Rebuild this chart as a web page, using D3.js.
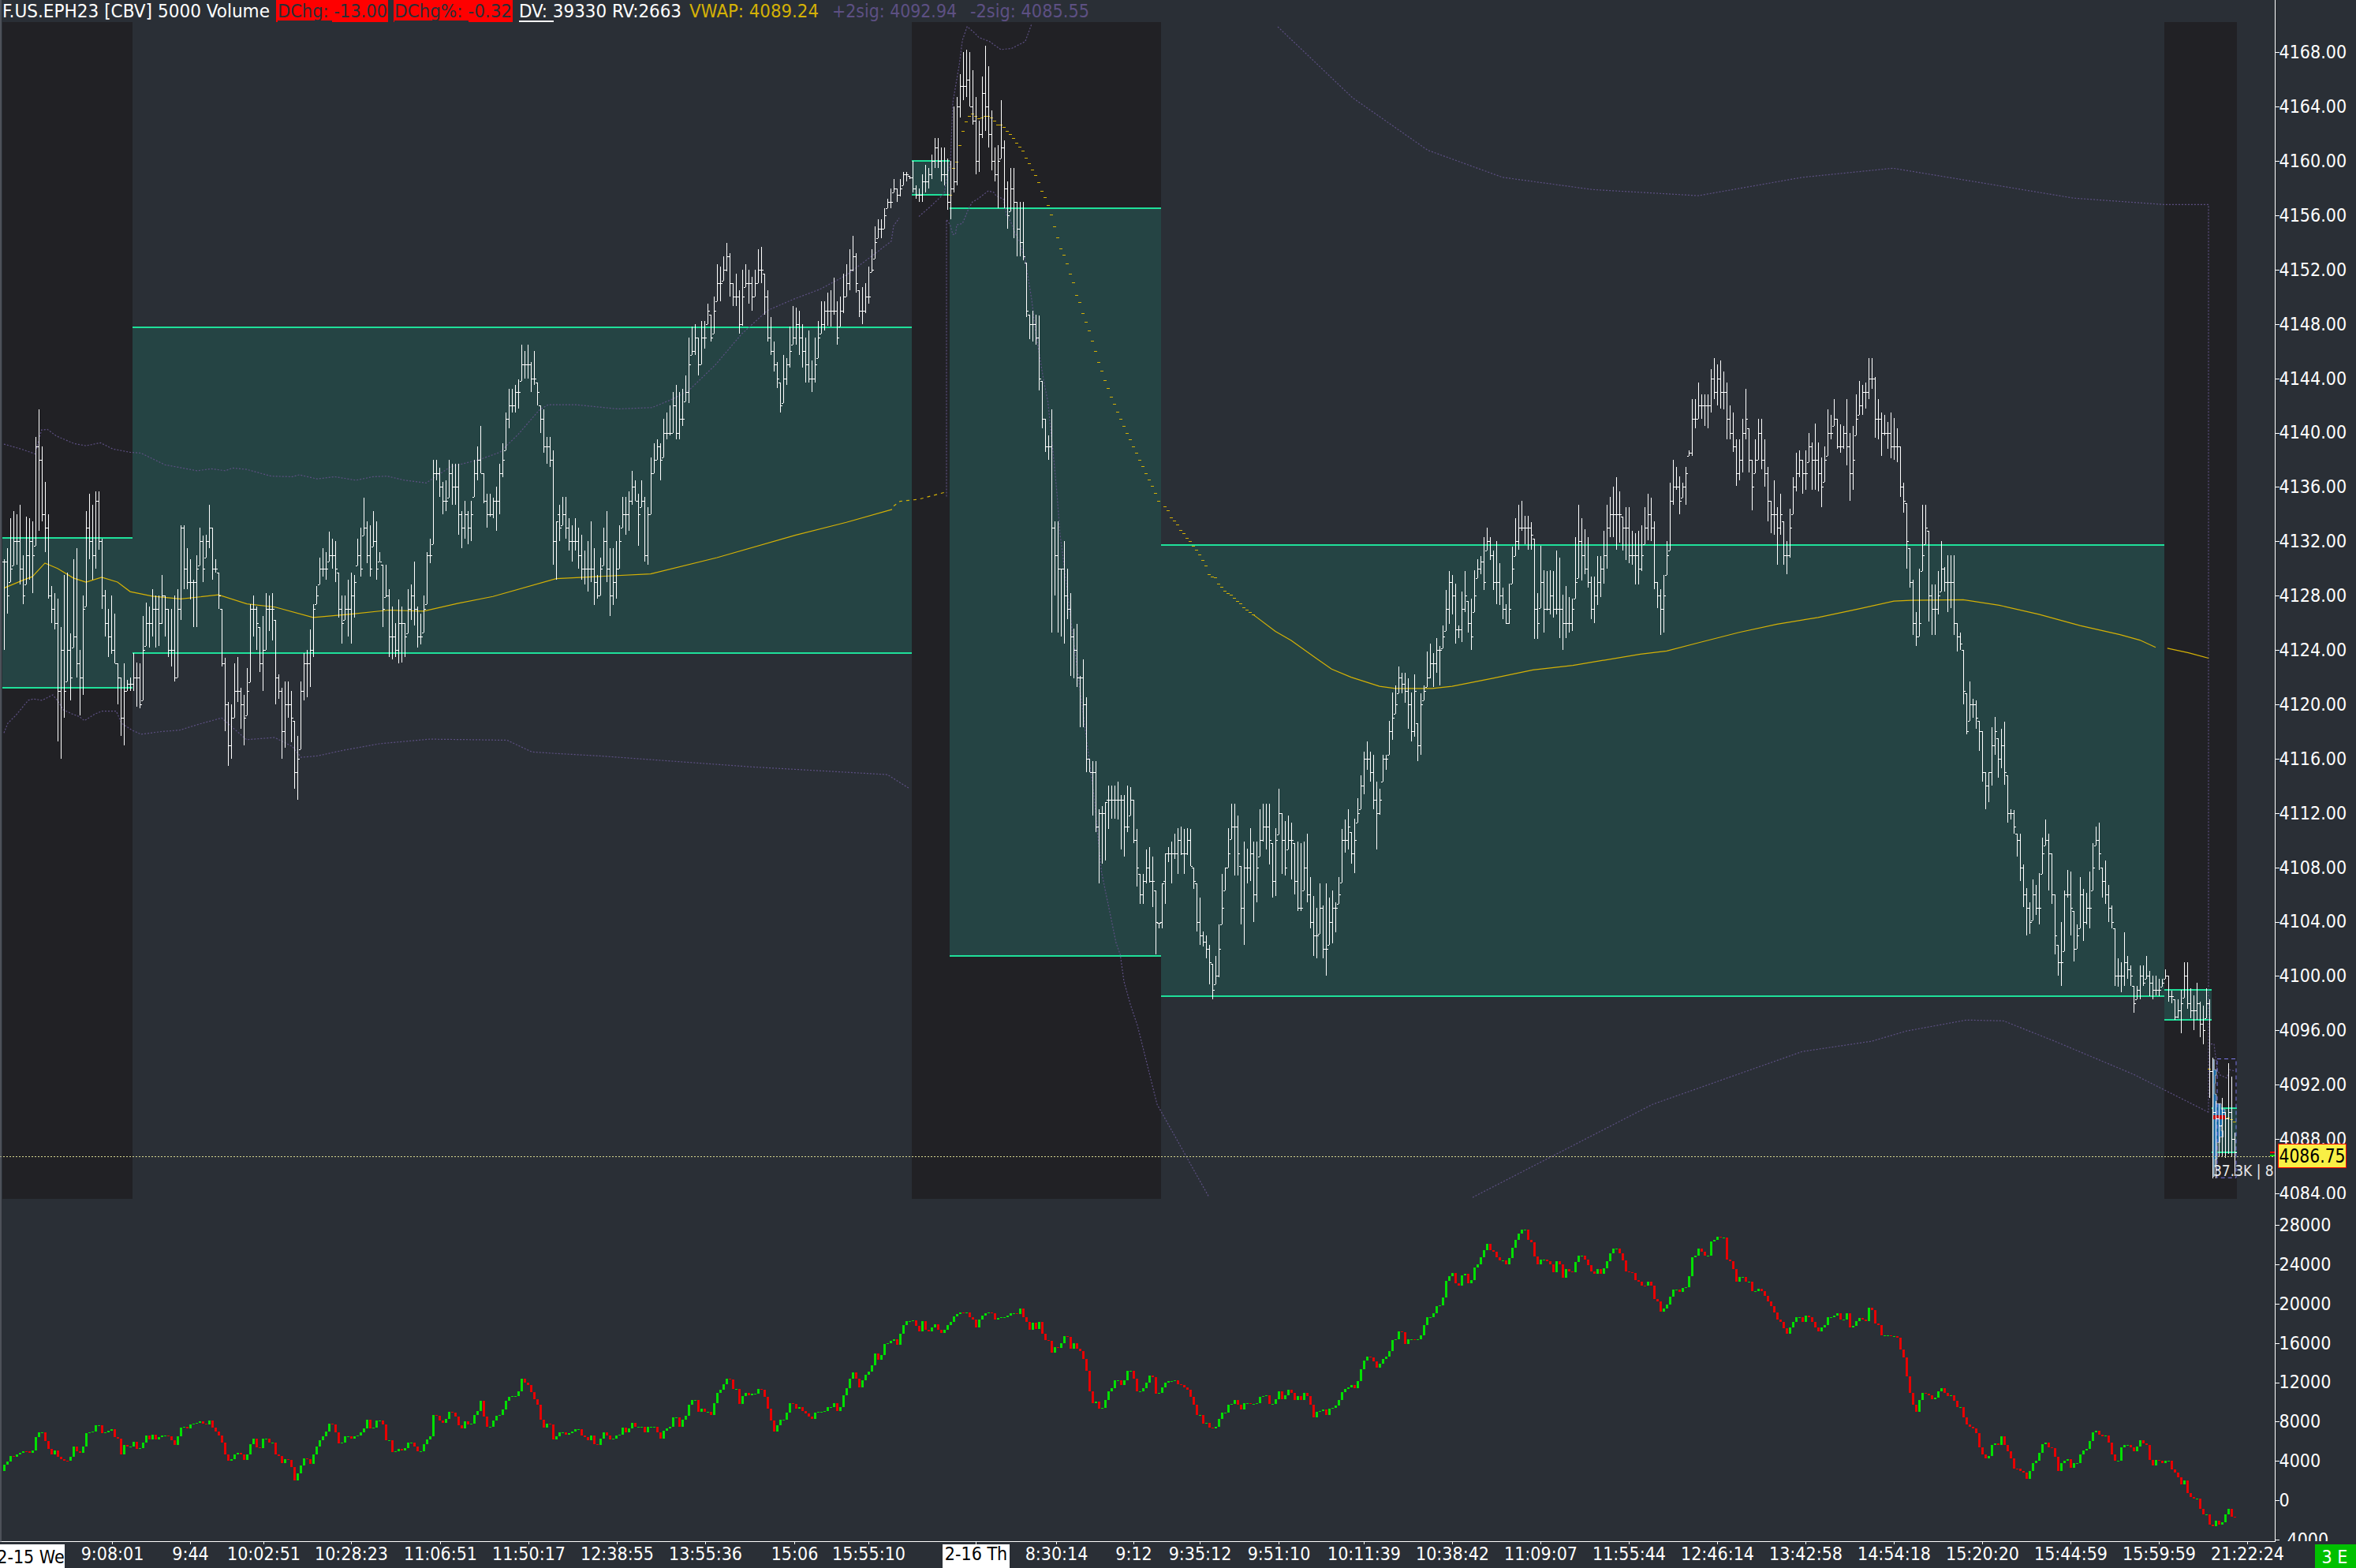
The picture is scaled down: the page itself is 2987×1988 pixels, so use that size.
<!DOCTYPE html>
<html><head><meta charset="utf-8">
<script src="https://cdn.jsdelivr.net/npm/d3@7/dist/d3.min.js"></script>
<style>
html,body{margin:0;padding:0;background:#2a2f36;overflow:hidden}
text{font-family:'DejaVu Sans Condensed','DejaVu Sans',sans-serif;font-stretch:condensed;font-size:23px}
</style></head><body><svg id="c" width="2987" height="1988"></svg>
<script>
// price bars, values are points above 4000
const priceBase=4000;
const highs=[130.7,131.5,133.7,134.2,134,134.7,131,133.8,133.7,133.5,
139.7,141.7,139,136.4,134,128.7,128.2,127.8,125.7,129.5,
129.7,125.2,130.7,131.5,124,128,134.2,135.5,134.7,135.7,
135.7,132.2,128.4,127,128,126.7,123,122,123,121.8,
122,123.8,123.1,123,126.5,127.5,127.2,128.5,128,128,
129.5,128,127,127,128,128.5,133.2,133.2,131.5,130.7,
129.2,131,133,132.4,132.5,134.7,133,130.7,129.7,127,
123.4,120.2,120,123,123.5,121.2,120.7,122.7,127.4,128,
127.2,125.7,126.5,128.2,128,128.2,126.2,122.2,121.2,121.7,
121.7,121,118.8,117.7,121.7,123.8,124,125.5,127.4,128.7,
130.8,131.5,131.2,132.7,132.2,132,129.7,128,128,129.2,
129.7,129.5,132.2,133,135.2,133.5,133.2,134.2,133.5,131.2,
130.3,130.3,128.5,127.2,126,127.7,127.2,126,128.5,128.8,
130.5,127.2,126.7,128,131.2,132.2,138,138,137.4,136.4,
136.5,138,137.7,137.7,137.7,134.2,135,134.2,135,138,
139,140.5,137,135.5,135.5,135.2,136,137.7,139.2,141.5,
143.2,143.2,143.5,143.9,146.5,146,146.5,145.2,146,143.7,
142,141.7,139.7,139.7,138.7,133.5,134.7,135.3,135.3,133.7,
133.2,133.7,133,132.5,131.3,132,133.5,131.5,129.5,130.8,
133,134.2,131.5,131.5,132,133.2,135.3,135.3,135.7,137.2,
136.5,135.5,136.5,135.3,134.5,138.2,139.2,139.5,139.2,141,
141.5,142,143,143.5,143,143.2,144.2,147,147.8,148,
147,148.2,148.2,149.5,148.7,150,152.4,152.2,153,154,
153.2,151,151.7,150.5,152,152.4,152,151.5,152,153.5,
153.7,151.7,150.5,148.5,146.7,145.2,143.7,145.7,145.5,147.8,
149.3,149.2,149,148,147,147.5,145.3,147,148.2,149.7,
149.7,150.3,150.5,151.4,149.7,150,151.7,152.4,153.5,154.5,
153.2,150.5,150.7,151,152.2,153.5,155.2,155.7,155.7,156.5,
157.2,158,158.7,158,158.7,159.2,159.2,158.9,160,158.2,
158,159,159.7,159.5,160.5,161.7,161.7,161,161,160.2,
160,164,164.7,166.4,168,168.2,168,166.7,164.7,163,
166.2,168.5,167,163.7,161,161.2,164.5,161.5,158.5,159.5,
159.5,157,157,157,152.5,148.7,149,148.7,148.6,143.8,
141,139.8,141.7,133.5,133.5,130,132,130,128.2,125.6,
125.9,122.1,123.3,120.5,116,115.8,115.8,112.3,112.5,112.8,
114,114,114,114.3,113.3,113.3,114,113.9,113,110.8,
107.5,107.5,109.3,109.5,108.8,106.3,103.9,106.8,109,109.5,
109.9,110.5,110.9,111,110.8,110.9,110.8,108,106.8,105.8,
103.3,103,102.3,100.9,101.5,103.8,107.5,108,110.9,112.7,
112.7,111.8,108.1,109.9,109.4,110.9,109.9,109.9,112.3,112.7,
112.7,112.7,109.8,110.9,113.8,112,111.4,111.8,111.3,109.8,
109.9,109.8,109.9,110.5,107.3,105.9,105,106.8,105.2,106.8,
105.8,106.3,105.4,107.3,110.8,111.5,112.3,110.6,111.6,113.1,
114.8,116.5,117.3,116.5,116.3,114.3,113.8,116.3,116.3,118.8,
120.9,121.4,122.8,122.3,122.3,121.9,120.9,122.2,118.6,120.8,
121.4,123.9,124.5,123.8,124.9,124.3,125.8,128.4,129.8,129.5,
128.9,125.8,128.3,129.8,127.6,127.8,129.9,130.7,130.9,132.3,
133,132.3,131.3,132,130.4,128.6,127.4,128.9,131.6,133.7,
134.7,135,133.9,133.9,133.4,132.2,128.2,131.7,129.9,129.8,
129.9,129.8,131.3,130.8,128.1,128.7,127.9,127.8,132.3,134.7,
133.7,132.9,132.3,129.4,129.4,130.9,130.9,132.8,134.7,135.3,
136,136.7,135.7,133.8,134.5,134.5,132.8,132.6,132.8,133.2,
134.5,135.5,135.2,133.5,129,128.5,129.5,132,136.3,138,
137.5,136.8,136.3,137.5,138.7,142.5,142.5,143.7,142.8,142.8,
142.8,144.7,145.5,145,145.3,144.5,143.7,142,141.5,139.5,
139.5,141,143.2,140.3,138,139.5,141,141,139.5,137.5,
135,136.5,134.5,135.5,133.5,132,134.4,136.7,138.5,138.7,
138,138.7,140,139.3,140.7,139.3,138.2,139,141.7,141.3,
142.5,141,140.6,140.5,142.5,140,140.5,142.8,143.8,143.5,
143.7,145.5,145.5,144.1,142.5,141.5,141.3,140.8,141.5,141.1,
140.3,139,136.3,134.8,131.5,129.2,126.8,130,134.7,134.7,
132.8,128.8,128.8,129.8,132,130.1,131,131,131,126,
125.3,124,120.8,121.7,120.4,120.3,118.8,118,115,115,
118.3,119.1,117.5,118.2,118.7,114.8,112.3,112.2,110.5,110.5,
108.2,106.5,105.4,107.1,106.7,107.6,110.2,111.5,110.5,109,
106,102.3,104,106.3,107.8,107.7,104.8,103.8,107.3,106.4,
106.1,107.7,109.8,111,111.3,108,108.5,106.7,105.2,103.5,
101.3,101,103.2,101.5,100.8,99.3,99.3,100.8,100.8,101.5,
100.4,100,100,99.8,99.8,100.5,100,98.9,98.3,98.3,
99,101,101,99.1,98.6,99.5,98.1,97.8,99.1,98.3,
94,90.8,90.6,91,90,93.6,92.6,88.5];
const lows=[124,126.7,129,130.2,130.3,128.8,127.4,128.8,129.2,128.2,
131.7,132.8,133.5,131.2,127.8,126,125.5,117.3,116,119,
121.7,120.3,124.2,122,119.2,120.7,127.2,130.7,129.2,130,
131.4,127,125,123.5,123.7,123,120,117.7,117,121,
121,121,119.8,119.7,120.3,124.3,124.2,125,124.2,124.3,
125.9,125,123.5,122.8,121.7,122,126.2,128.5,128.5,127.7,
125.7,125.7,130.2,129,130.8,131.5,129.2,129.7,127,122.8,
118,115.5,116,119,120.2,118.2,117,119.2,121.6,125,
124,122.4,121,124,125.4,124.7,120,120.4,116,116.8,
119,117.2,113.8,113,116.7,120.3,120.5,121.3,123.5,127.4,
128.8,129.4,129.2,130.5,130,129,126.4,124.5,126.2,125,
124.5,126.4,130.2,129.4,132.4,130.4,129.4,131.6,129.2,130.5,
125.7,127.9,123.5,123.3,123.5,123,123.1,123.5,125.2,126.2,
125.8,124.2,124.4,125.3,127.4,130.4,131.8,136.5,135.3,134,
134.2,135.2,134.7,134.7,132.5,131.5,132.2,131.8,132,135.3,
136.5,137,134.8,133,133.8,133.7,132.8,134,136.7,138.7,
140.3,141.5,141.5,141.8,143.8,144,144,143,143.5,142,
140,138.5,137.7,137.5,130.3,129.2,132,133.2,132.2,131.3,
130.5,131.3,130,129.2,128.8,128.3,129,127.3,127.8,128,
130.2,129,126.5,127.3,127.8,130,133,132.5,132.8,134.7,
135,131.7,134.5,130.5,130.3,134,137,138,136.5,138.2,
139.5,139.8,140,139.5,139.5,140.5,142.3,142.2,145.7,145.7,
144.2,145,146.2,148,146.7,147.3,149.7,149.7,151.2,151.9,
150,149.3,149.3,147.3,147.9,150.7,149.5,149,150,151,
151,148.7,146.7,145.7,144.5,143.3,141.5,142.2,143.5,144.8,
146.5,146.5,145.7,144.8,143.7,143.7,143,143.7,145.5,147.3,
147.5,147.9,147.8,148.7,146.5,147.8,148.8,150,150.5,151.9,
150.3,148.5,148,148.8,149.5,151.8,152.8,154.3,154.3,155,
156.5,156.5,157.7,157,157.4,158.2,158.5,158.7,157.7,157.2,
157,157,157.7,158,158.7,159.5,159.5,158.5,158.2,156.4,
155.7,157.7,158.2,163.2,164.5,164.7,164,162.7,159,159.2,
161.7,162.2,161,159.3,158.5,156.5,160.2,156.5,155,156.3,
154.3,153,153,152.7,148.5,146.9,146.7,146.5,143.1,140.3,
138.6,138,125.3,128,125.3,125,124.5,126.3,122.1,121.9,
121.3,118.3,118.3,115,115,111.8,110.6,106.8,108.3,108.5,
110.8,111.6,111.6,111.5,109.3,108.8,110.6,111.8,109.8,106.6,
105.3,105.3,106.8,106.9,105.1,101.6,103.5,103.5,105.3,108.4,
106.8,108.6,107.5,108.9,107.5,108.9,108.1,106.4,103.3,102.3,
102.2,101.3,99.4,98.3,99.4,99.9,103.8,106.3,108,110.1,
107.4,107.4,103.8,102.3,106.8,107,104,105.4,108.8,109.9,
109.3,108.2,105.8,105.9,110.4,107.5,107.4,109.3,107.1,106,
104.8,104.8,106.3,105.4,103.5,101.5,101.3,103.1,101.3,100,
102.3,102.4,103.2,105.3,106.9,109.1,109.3,108.3,107.6,111.3,
112.3,113.4,115.2,114.3,112.3,109.3,111.9,114.3,115.2,116.3,
117.4,119.3,120.8,120.8,120.1,118.2,117.3,117.6,115.8,116.3,
120.3,121.3,121.9,121.3,122.3,121.4,124.1,125.4,125.9,126.6,
124.5,124.9,124.6,126.8,125.3,124,126.8,129.3,129.6,128.4,
131.3,130.6,128.4,127.4,127.3,126.3,125.9,125.9,128.9,130.9,
131.4,132.8,131.8,131.4,131.4,124.8,124.8,127.1,125.3,126.9,
126.6,126.4,126.6,124.9,124,124.9,125.3,125.4,127.8,129.3,
129.1,129.6,128.6,126.3,126,127.3,127.9,128.9,130,132.3,
132.3,131.4,131.9,131.3,130.6,130.4,130.3,128.8,128.8,129.8,
131.8,132.1,132,128.5,127.1,125.1,125.3,129.5,131.3,134.7,
135.8,134,135.2,134.7,138.3,138.3,140.3,141,141,140.5,
140.3,141.5,142.5,142,141.8,141.7,139.5,139.5,138.6,136.1,
136.5,137.1,139.5,137.1,134.3,137,138,137.3,136,133.5,
132.6,132.5,130.3,132.5,130.3,129.6,130.8,134,135.7,136.7,
135.5,135.8,137.8,135.8,135.8,135.7,134.5,136.4,138.3,139.5,
140.5,138.8,138.5,138.8,137.6,135,135.8,139.8,141.3,141.3,
141.8,142.5,143.2,139.6,139.5,138.3,139.8,138.8,138.1,138,
137.8,135.3,134.1,130,128.6,125.1,124.3,125,129.8,131.8,
126.1,125.1,125.1,126.6,128.3,128.3,126.8,127.1,125.1,123.9,
124,120,117.8,118.8,119,118.2,116.6,114.3,112.3,112.8,
114,116.3,114.6,115.3,114.1,111.3,111.5,110.5,108.8,107,
105.1,103,103.1,104.1,104.5,103.8,107.5,109.6,106.3,105.3,
101.6,100,99.3,101.8,105.8,103,101.1,102,103.5,102.6,
103.8,103.5,106.3,109.6,107.8,105.8,105.3,104,103.5,99.3,
99.2,98.8,99.3,99.8,99.3,97.3,98.3,98.3,99.3,99.8,
98.5,98.3,98.6,98.5,99.2,99.8,98.1,98,96.8,96.9,
95.8,98.4,97.6,96.9,96,96.8,95.5,95,96.9,91,
85.1,85.1,86.7,86.7,86.6,86.9,86.7,85.3];
const closes=[130.5,128,130,132,132,130,128,131,132,131,
139,138,134,133,128,127,126,121,124,121,
124,122,125,123,122,127,133,132,131,135,
132,128,126,125,124,123,122,119,121,121.5,
121.5,122,122,120,124,126,126,127,127,126,
128,127,124,124,122,127,133,130,129,129,
129,130,132,130,132,133,130,130,128,123,
120,117,119,121,121,120,119,121,127,127,
126,123,124,127,127,127,122,121,118,120,
120,119,115,116,121,123,123,124,127,128,
130,130,130,131,131,130,127,126,127,127,
128,129,131,130,133,131,130,132,130,130.5,
127,128,125,125,124,126,126,125,127,128,
127,125,125,127,131,131,137,137,136,135,
135,137,136,136,134,133,134,133,134,137,
138,137,135,134,134,135,135,137,138,141,
142,142,143,143,145,145,145,144,144,143,
141,139,139,138,132,134,133,134,133,132,
132,132,131,130,130,130,130,129,128,130,
132,130,128,129,130,132,134,134,135,136,
135,134,135,131,134,137,138,139,138,140,
140,140,142,140,141,141,143,145,146,147,
145,147,147,149,147,149,151,151,152,153,
151,150,150,148,150,151,151,150,151,152,
152,150,147,146,145,144,142,144,145,146,
147,148,147,146,145,144,144,145,147,148,
149,149,149,149,147,149,150,151,152,153,
151,149,149,150,150,152,154,155,155,156,
157,157,158,157.5,158,159,159,158.8,158,157.5,
157.5,158.5,158.5,159,160,161,160,159,159,157,
158,158.5,164,165.5,165.5,166,164,163,160,162,
165,164,162,160,159,160,161,158,156,158,
157,155,154,153,149,148,148,147,144,141,
139,139,133,131,130,130,128,127,125,124,
122,122,120,116,115,115,111,112,112,113,
113,113,113,113,113,111,111,113,110,108,
106,107,108,107,107,104,104,107,109,109,
109,109,110,109,109,110,108,107,104,103,
102.5,102,101,99,100,102,105,108,109,111,
111,109,105,108,108,109,106,108,110,111,
111,110,107,110,112,110,108,110,110,107,
105,105,108,106,104,103,103,105,102,102,
104,105,105,106,110,110,111,109,110,112,
114,116,116,115,113,112,113,116,116,118,
119,120,122,121.5,121,120,118,121,117,120,
121,122,123,123,124,124,125,127,129,128,
125.5,125.5,127,128,126,125,128,130,130.5,129,
132,131,129,129,128,127,126,127,130,132,
133,133,133,133,132.5,127,126,129,127,127,
128,127,127,127,126,126,126,127,129,132,
131,130,129,127,128,129,130,131,133,134,
134,134,134,133,133,131,131,131,130,131,
133,134,133,129,128,127,128,131,135,136,
136,135,136,137,138.5,141,141,142,142,142,
142,144,143,144,143,143,141,140,139,137,
138,140,141,138,136,138,140,138,137,135,
134,134,133,134,131,131,133,136,137,138,
137,137,139,138,138,137,136,138,140,140,
141,139,139,140,139,137,138,141,142,143,
143,144,144,141,141,140,140,140,139,139,
139,136,135,132,129,126,125,126,131,133,
128,127,127,128,130,129,129,129,126,125,
124.5,121,118,120,120,119,118,115,114,115,
117,118,116,117,115,112,112,111,110,108,
106,105,104,106,105,105,109,110,109,106,
103,101,101,106,106,105,102,103,106,104,
105,105,108,110,109,107,106,105,104,100,
100,100,101,100.5,100,98,99,100,99.5,100,
99.5,99,99,99,99.5,100,98.5,98.5,97,97.5,
98,100,98,97.5,97.5,98,96.5,96,98,93,
90,89.5,89,90,89.5,90,88,87];
// cumulative delta candle closes, in thousands
const deltaCloses=[3.65,3.9,4.5,4.45,4.65,4.85,5,4.95,4.8,5.1,6.45,6.9,6.9,6.05,5.2,4.7,5.1,4.45,4.15,4.05,4,4.4,5.5,5,4.85,5.5,6.8,6.9,7,7.6,7.6,6.85,6.9,7.1,7.2,6.45,6.3,4.7,5.65,5.45,5.45,5.95,5.25,5.3,5.9,6.55,6.2,6.65,
6.2,6.4,6.6,6.6,6.5,6.1,5.6,6.5,7.4,7.5,7.3,7.7,7.8,7.9,8,7.8,7.7,8.1,7.4,7,6.6,5.9,4.7,4,4.2,4.7,4.8,4.7,4.1,4.7,5.7,6.3,5.4,5.3,6.3,6.3,5.9,5.9,4.7,4.5,3.8,4.2,4.1,3.4,2,2.7,3.5,4.3,4.2,3.7,4.7,5.5,6.1,6.5,7,7.8,7.7,6.9,5.8,5.9,6.5,6.5,6.3,6.5,6.6,6.9,7.3,8.2,7.3,7.4,8.1,8.1,7.7,6.1,6.1,4.9,5,5.2,5.1,5.3,5.9,5.9,5.5,5,5,5.7,6.2,6.5,8.7,8.6,8.1,7.9,8.3,9,8.9,8.5,7.6,7.3,8,7.7,7.8,8.7,9.1,10.1,8.5,7.5,7.5,8.1,8.6,8.7,9.2,10.1,10.5,10.6,10.6,11.1,12.4,12,11.7,11,10.3,9.7,8.2,7.4,7.8,7.7,6.2,6.5,6.9,6.9,6.7,6.8,7,7.2,7.2,6.6,6.4,6.1,6.6,5.7,5.6,6.3,6.9,6.6,6.2,6.3,6.6,6.7,7.4,6.9,7.3,7.9,7.5,7.5,7.5,6.9,7.5,7.5,7.5,6.9,6.3,7.1,7.3,7.5,8.4,8.4,7.5,8.2,8.6,9.7,10.2,10.2,9,9.3,9,9,8.7,9.9,10.9,11.2,11.8,12.4,12.3,11.3,11.3,9.8,10.6,10.9,10.7,10.8,10.8,11.3,11.2,10.5,9.3,8.1,7,7.6,8.2,8.2,8.9,
9.9,9.8,9.3,9.5,9.1,8.8,8.5,8.3,8.9,9,9,9.1,9.5,9.5,9.9,9.1,9.5,10.7,11.4,12.4,13,12.4,11.5,12.2,12.8,13.1,13.7,14.9,14.3,14.8,15.9,16,16.2,16.4,15.8,16.9,17.8,18.2,18.2,18.3,17.7,17.2,18.2,17.3,17.2,17.6,17.9,17.3,17,17.3,17.8,18.1,18.7,18.9,19.1,19,19.1,18.6,18.4,17.6,18.4,18.8,19,19.1,19,18.4,18.5,18.6,18.6,18.8,19,19,18.9,19.5,18.6,18.1,17.3,18.05,17.4,18.1,16.9,16.3,16.2,15,15.6,15.5,16,16.7,16.6,15.4,16,15.4,15.2,14.4,13.2,11.1,9.9,10,9.3,9.4,10.2,11.1,11.4,12.2,12.2,11.7,12.2,13.2,13.2,12.4,11.1,11.1,11.4,12,12.7,12.5,10.8,10.9,11.5,12,12.1,12.1,12.2,11.8,11.7,11.5,11.2,10.5,9.7,8.7,8.7,7.8,7.85,7.4,7.3,7.45,8.3,8.9,8.9,9.7,9.8,10.2,9.7,9.2,9.9,9.9,9.8,9.8,9.9,10.5,10.6,10.7,9.8,9.8,10.3,11.1,10.3,10.7,11.2,10.9,10.2,10.6,10.2,10.9,10.6,9.7,8.4,9,9.1,9.2,8.7,9.3,9.4,9.6,10.2,11,11.3,11.5,11.7,11.4,12.1,13.3,14.2,14.6,14.5,14.1,13.5,13.9,14.4,14.6,15.2,16.3,16.4,17.2,17.1,15.9,16.4,16.4,16.3,16.4,16.8,17.8,18.6,18.6,19,19.7,19.8,20.6,22.3,22.8,23.1,22.1,21.8,22.9,23,22.1,22.4,23.7,24,24.7,25.4,26.1,25.4,25.3,24.7,24.4,24.4,24,24.6,25.7,26.5,27.15,27.5,27.5,26.5,26.2,24.8,24,24.5,24.5,24.3,24,23.2,24.3,24,22.6,23.5,23.3,23.2,24.2,
24.9,24.9,24.5,23.9,23.3,23,23.5,23,23.6,24.3,25.1,25.6,25.6,25.1,24.4,23.3,23.2,23.1,22.4,22.2,21.85,21.8,22.25,21.8,20.5,20.2,19.2,19.5,19.9,20.7,21.45,21.45,21.2,21.6,21.7,22.8,24.7,24.9,25.6,25.3,24.85,24.9,26.3,26.5,26.8,26.7,26.7,24.5,24.3,23.5,22.25,22.7,22.7,22.25,22.25,21.3,21.3,21.5,21.3,20.8,20.2,19.7,19.1,18.4,18.1,17.5,16.9,17.6,18.1,18.6,18.6,18.1,18.8,18.6,18.1,17.6,17.2,17.6,17.8,18.6,18.6,18.8,19,18.4,18.4,19,17.6,17.7,18.2,18.5,18.4,18.2,19.6,19.3,18,17.8,16.8,16.8,16.8,16.7,16.7,16.5,15.3,14.5,12.6,10.9,9.75,9,10.2,10.9,10.8,10.7,10.3,10.4,11.1,11.4,10.9,10.6,10.7,10.1,9.5,9.5,8.4,7.7,7.5,7.3,6.8,5.4,4.7,4.3,4.5,5.65,5.8,5.65,6.5,5.65,5,4.3,3.25,3.2,3,2.85,2.2,3,3.8,4.05,4.85,5.7,5.9,5.4,5.3,4.45,3,3.8,4.05,4.2,3.3,3.8,3.8,4.7,5.1,5.25,6,6.9,7.1,6.65,6.5,6.6,5.9,4.7,4.05,4.05,5.4,5.6,5.6,5.4,5,5.5,6.1,5.8,5.65,4.1,3.5,4.1,4.05,3.8,4,4,3.1,2.85,2.3,1.6,2,0.7,0.3,0.2,0.2,-0.9,-1.4,-1.4,-2.45,-2.6,-2.1,-2.45,-2.2,-1.4,-0.9,-1.7,-1.75];
// value-area rectangles: first bar, last bar, high price, low price
const areaStart=[0,41,288,300,367,685,700];
const areaEnd=[41,288,300,367,685,700,708];
const areaHigh=[4132.25,4147.75,4160,4156.5,4131.75,4099,4090.25];
const areaLow=[4121.25,4123.75,4157.5,4101.5,4098.5,4096.75,4087];
// off-session shading, as bar positions
const sessionStart=[0,288,685];
const sessionEnd=[41,367,708];
// VWAP, read as [bar, points above 4000]
const vwapDayOne=[[0,128.56],[6,129.14],[9,129.4],[13,130.4],[17,130],[22,129.3],[26,129],[31,129.36],[36,129],[40,128.3],[47,127.96],[56,127.76],[68,128.06],[77,127.4],[86,127.16],[98,126.4],[110,126.64],[122,126.94],[133,126.86],[144,127.44],[155,127.94],[175,129.26],[184,129.36],[205,129.61],[226,130.8],[251,132.46],[267,133.4],[281.5,134.35]];
const vwapDayOneTail=[[282,134.6],[284,134.95],[290,135.1],[299,135.66]];
const vwapFall=[[300,157.53],[301,159.5],[302,159.93],[303,161.2],[304,162.2],[305,162.94],[306,163.3],[307,163.47],[308,163.3],[309,163.14],[310,163.23],[311,163.3],[312,163.33],[313,163.23],[314,163],[315,162.71],[316,162.71],[317,162.48],[318,162.2],[319,161.96],[320,161.67],[321,161.32],[322,161.03],[323,160.74],[324,160.27],[325,159.81],[326,159.35],[327,158.94],[328,158.42],[329,157.78],[330,157.31],[331,156.73],[332,156.04],[333,155.17],[334,154.36],[335,153.54],[336,153.08],[337,152.44],[338,151.69],[339,151.05],[340,150.12],[341,149.6],[342,148.78],[343,148.15],[344,147.51],[345,146.77],[346,146],[347,145.2],[348,144.57],[349,143.87],[350,143.27],[351,142.67],[352,142.13],[353,141.53],[354,141.03],[355,140.5],[356,139.97],[357,139.5],[358,139],[359,138.53],[360,138],[361,137.53],[362,137.03],[363,136.57],[364,136.07],[365,135.57],[366,135],[368,134.57],[369,134.27],[370,133.77],[371,133.53],[372,133.23],[373,132.83],[374,132.6],[375,132.23],[376,132],[377,131.67],[378,131.4],[379,131.03],[380,130.6],[381,130.23],[382,129.6],[383,129.4],[384,129.33],[385,128.9],[386,128.67],[387,128.37],[388,128.17],[389,128.07],[390,127.83],[391,127.6],[392,127.43],[393,127.13],[394,126.97],[395,126.77],[396,126.6],[699,93.2],[702,89.4],[705,89.6],[706,89.45],[707,89.27]];
const vwapDayTwo=[[396,126.6],[403,125.37],[408,124.7],[415.7,123.43],[420.8,122.6],[427,122],[436,121.33],[441,121.17],[452.7,121.17],[459,121.33],[472,121.93],[484.6,122.53],[497.3,122.87],[518.7,123.7],[527,123.93],[537,124.53],[550,125.3],[562,125.9],[575,126.4],[588,127.03],[599,127.6],[604.4,127.66],[621,127.7],[632.4,127.3],[645,126.63],[658,125.8],[670.7,125.13],[677,124.73],[682,124.2]];
const vwapDayTwoTail=[[685.7,124.13],[692.4,123.8],[698.8,123.4]];
// sigma bands, read as [bar, points above 4000]
const upperOne=[[0,139.16],[5.4,138.8],[9.9,138.44],[11.9,140.2],[13.8,140.24],[16.6,139.76],[22.2,139.2],[26,139.04],[30.6,139.26],[34.5,138.8],[40,138.56],[43.4,138.5],[51,137.64],[61.2,137.2],[65.7,137.34],[70.2,137.2],[72.4,137.4],[76.9,137.3],[84.7,136.8],[91.4,136.76],[93.6,136.9],[99.2,136.6],[104.8,136.76],[111.5,136.5],[117,136.76],[121.5,136.8],[127,136.5],[133.8,136.3],[137.1,136.8],[141.6,137.5],[150.5,138],[157.2,138.56],[163,139.88],[169.6,141.65],[172.5,142.06],[181.25,142.06],[194.6,141.75],[205.4,141.85],[212,142.48],[217,143.1],[225.4,144.97],[233.75,147.25],[242,149],[250.4,149.84],[258.75,150.57],[267,151.6],[275.4,153.06],[281.25,154.1],[282,155.24],[283.75,155.8]];
const upperOneTail=[[290,155.92],[293.7,156.66],[298,157.6],[299,158.98],[300,159.85],[300.75,164.3],[302.8,167.1],[303.8,168.9],[305.3,169.9],[307.8,169.4],[309,169.1],[312.4,168.8],[316,168.2],[319.5,168.3],[323.7,168.8],[325.75,170.1]];
const upperTwo=[[403.75,169.88],[427.5,164.65],[451.25,160.8],[475,158.8],[503.5,157.9],[537,157.45],[570,158.8],[598.75,159.47],[627.5,158.37],[656,157.27],[684.5,156.8],[698.75,156.8],[698.75,89.97]];
const lowerOne=[[0,117.9],[1.2,118.6],[3.8,119.2],[7.7,120.3],[9.35,120.4],[12.1,120.3],[15.5,120.7],[17.2,120.2],[18.8,119.6],[21.6,119.3],[23.9,119.1],[25.5,118.8],[28.9,119.3],[31.1,119.5],[35.6,119.5],[37.3,118.6],[40.6,118.1],[43.4,117.8],[50,118],[55.7,118.1],[61.2,118.5],[69,119],[76.9,117.4],[85.8,117.56],[91.4,116.9],[94.2,116.1],[99.2,116.2],[108,116.64],[119,117.1],[134.9,117.44],[148.3,117.4],[159.5,117.36],[167.3,116.5],[173.75,116.4],[189,116.2],[236.75,115.4],[280,114.83],[287,113.8]];
const lowerTwo=[[298.75,135.3],[298.75,155.7],[299.9,155.3],[300.75,154.6],[301.6,154.6],[302,155.3],[303.8,155.4],[304.9,156],[305.75,156.5],[307,157],[308.25,157.14],[309.9,157.43],[312,157.8],[313.7,157.7],[314.5,157.43],[316.8,157.2],[317.8,156],[319,155.6],[320.3,154.8],[322,154],[323.7,152.7],[324.7,151.3],[325.75,149.8],[327,147.4],[329.6,143.77],[330.9,142.27],[332.8,137.93],[333.8,135.43],[334.7,132.6],[336,130.27],[338.5,125.6],[341.7,119.93],[343.6,116.6],[345.5,113.27],[347.8,107.77],[349.4,105.93],[350.6,104.6],[352.5,102.43],[353.8,101.6],[355,99.6],[357,97.93],[359.3,96.33],[365.5,90.55],[382,83.7]];
const lowerThree=[[465.5,83.7],[522.5,90.55],[570,94.44],[592,95.2],[603,95.95],[622,96.76],[633.75,96.7],[650,95.2],[675,92.76],[698.75,89.97]];
const lastSessionBand=[[699.5,95],[700.5,95],[701.5,93.1],[702.5,92.7],[704.5,92.5],[705.5,93.1],[707.3,93]];
// last-session volume profile
const profilePrices=[93.85,93.1,92.7,92.1,91.3,90.6,90.2,89.6,89,88.6,88.15,87.75,87.1,86.5,85.9,85.25];
const profileVolumes=[2,4,12,8,6,12,30,45,35,30,38,25,15,15,6,4];
// axes
const priceTicks=[4084,4088,4092,4096,4100,4104,4108,4112,4116,4120,4124,4128,4132,4136,4140,4144,4148,4152,4156,4160,4164,4168];
const deltaTicks=[-4000,0,4000,8000,12000,16000,20000,24000,28000];
const timeTickBars=[34.25,59,82.25,110,138.25,166.25,194.25,222.25,250.5,274,308,333.5,358,379,404,431,459,487,515,543,571,599,627,655,683,711];
const timeTickLabels=['9:08:01','9:44','10:02:51','10:28:23','11:06:51','11:50:17','12:38:55','13:55:36','15:06','15:55:10','2-16 Th','8:30:14','9:12','9:35:12','9:51:10','10:11:39','10:38:42','11:09:07','11:55:44','12:46:14','13:42:58','14:54:18','15:20:20','15:44:59','15:59:59','21:22:24'];
const lastPrice=4086.75;

const BG='#2a2f36',DARK='#212125',TEAL='#254444',MINT='#1fe09a',GOLD='#d4b106',PURPLE='#5d5083',WHITE='#ffffff';
const svg=d3.select('#c');
svg.append('rect').attr('width',2987).attr('height',1988).attr('fill',BG);
const defs=svg.append('defs');
defs.append('clipPath').attr('id','pane').append('rect').attr('x',2).attr('y',28).attr('width',2882).attr('height',1492);
defs.append('clipPath').attr('id','paneAxis').append('rect').attr('x',2880).attr('y',0).attr('width',107).attr('height',1520);
defs.append('clipPath').attr('id','lowAxis').append('rect').attr('x',2880).attr('y',1520).attr('width',107).attr('height',434);
defs.append('clipPath').attr('id','inChart').append('rect').attr('x',2700).attr('y',1400).attr('width',184).attr('height',120);

const x=d3.scaleLinear().domain([0,707]).range([5,2833]);
const edge=i=>x(i-0.25);
const y=d3.scaleLinear().domain([4084,4168]).range([1513,66.4]);
const yd=d3.scaleLinear().domain([-4000,28000]).range([1952,1553]);
const P=v=>y(priceBase+v);

const pane=svg.append('g').attr('clip-path','url(#pane)');
pane.selectAll('.sess').data(sessionStart).join('rect').attr('x',(d,i)=>i==0?3:edge(d)).attr('y',28)
 .attr('width',(d,i)=>edge(sessionEnd[i])-(i==0?3:edge(d))).attr('height',1492).attr('fill',DARK);
const areas=pane.append('g');
areaStart.forEach((s,i)=>{
  const x0=i==0?3:edge(s),x1=edge(areaEnd[i]);
  areas.append('rect').attr('x',x0).attr('y',y(areaHigh[i])).attr('width',x1-x0).attr('height',y(areaLow[i])-y(areaHigh[i])).attr('fill',TEAL);
  [areaHigh[i],areaLow[i]].forEach(p=>areas.append('line').attr('x1',x0).attr('x2',x1).attr('y1',Math.round(y(p))).attr('y2',Math.round(y(p)))
    .attr('stroke',MINT).attr('stroke-width',2).attr('shape-rendering','crispEdges'));
});
const line=d3.line().x(d=>x(d[0])).y(d=>P(d[1]));
[upperOne,upperOneTail,upperTwo,lowerOne,lowerTwo,lowerThree,lastSessionBand].forEach(a=>
  pane.append('path').attr('d',line(a)).attr('fill','none').attr('stroke',PURPLE).attr('stroke-width',1.2).attr('stroke-dasharray','2 2'));
[vwapDayOne,vwapDayTwo,vwapDayTwoTail].forEach(a=>
  pane.append('path').attr('d',line(a)).attr('fill','none').attr('stroke',GOLD).attr('stroke-width',1.2));
pane.append('path').attr('d',line(vwapDayOneTail)).attr('fill','none').attr('stroke',GOLD).attr('stroke-width',1.2).attr('stroke-dasharray','4 5');
pane.selectAll('.vt').data(vwapFall).join('rect').attr('x',d=>x(d[0])-2).attr('y',d=>Math.round(P(d[1]))).attr('width',4).attr('height',1).attr('fill',GOLD);

// volume profile
const xp=d3.scaleLinear().domain([0,45]).range([2806,2821]);
const prof=profilePrices.map((p,i)=>[p,profileVolumes[i]]);
pane.append('path').attr('d',d3.area().x0(xp(0)).x1(d=>xp(d[1])).y(d=>P(d[0])).curve(d3.curveStepAfter)(prof))
 .attr('fill','#1b6ca8').attr('stroke','#a4abb3').attr('stroke-width',1);
pane.append('rect').attr('x',xp(0)).attr('y',P(89.75)).attr('width',15).attr('height',5).attr('fill','#c40000');
pane.append('rect').attr('x',x(701.5)).attr('y',P(93.9)).attr('width',x(707.5)-x(701.5)).attr('height',P(85.15)-P(93.9))
 .attr('fill','none').attr('stroke','#7a78e8').attr('stroke-width',1).attr('stroke-dasharray','5 4');

// OHLC bars
const bars=highs.map((h,i)=>{const l=lows[i],c=Math.min(h,Math.max(l,closes[i])),o=i?Math.min(h,Math.max(l,closes[i-1])):c;return {i,h,l,o,c};});
const barG=pane.append('g').attr('stroke',WHITE).attr('stroke-width',1).attr('shape-rendering','crispEdges');
barG.selectAll('.b').data(bars).join('line').attr('x1',d=>x(d.i)+.5).attr('x2',d=>x(d.i)+.5).attr('y1',d=>P(d.h)).attr('y2',d=>P(d.l));
barG.selectAll('.o').data(bars).join('line').attr('x1',d=>x(d.i)-2).attr('x2',d=>x(d.i)).attr('y1',d=>Math.round(P(d.o))+.5).attr('y2',d=>Math.round(P(d.o))+.5);
barG.selectAll('.c').data(bars).join('line').attr('x1',d=>x(d.i)+1).attr('x2',d=>x(d.i)+3).attr('y1',d=>Math.round(P(d.c))+.5).attr('y2',d=>Math.round(P(d.c))+.5);

// last price line
svg.append('line').attr('x1',0).attr('x2',2884).attr('y1',Math.round(y(lastPrice))+.5).attr('y2',Math.round(y(lastPrice))+.5)
 .attr('stroke','#d8d890').attr('stroke-width',1).attr('stroke-dasharray','2 2').attr('shape-rendering','crispEdges');
svg.append('rect').attr('x',2878).attr('y',1460).attr('width',6).attr('height',2).attr('fill','#ff0000');
svg.append('rect').attr('x',2878).attr('y',1464).attr('width',6).attr('height',2).attr('fill','#00e000');
svg.append('g').attr('clip-path','url(#inChart)').append('text').attr('x',2806).attr('y',1491).attr('fill','#e8e8e8').style('font-size','19px').text('37.3K | 8K');

// delta candles
const dG=svg.append('g').attr('shape-rendering','crispEdges');
const candles=deltaCloses.map((c,i)=>({i,c:c*1000,o:(i?deltaCloses[i-1]:3)*1000}));
dG.selectAll('rect').data(candles).join('rect').attr('x',d=>x(d.i)-1).attr('width',3)
 .attr('y',d=>yd(Math.max(d.o,d.c))).attr('height',d=>Math.max(1,Math.abs(yd(d.o)-yd(d.c))))
 .attr('fill',d=>d.c>=d.o?'#00e000':'#e80000');

// axes
function styleAxis(g){g.select('.domain').remove();g.selectAll('.tick line').attr('stroke',WHITE).attr('shape-rendering','crispEdges');g.selectAll('text').attr('fill',WHITE).style('font-size','23px');}
svg.append('g').attr('clip-path','url(#paneAxis)').append('g').attr('transform','translate(2884.5,0)')
 .call(d3.axisRight(y).tickValues(priceTicks).tickFormat(d3.format('.2f')).tickSize(5).tickPadding(0)).call(styleAxis);
const lowAxis=svg.append('g').attr('clip-path','url(#lowAxis)').append('g').attr('transform','translate(2884.5,0)')
 .call(d3.axisRight(yd).tickValues(deltaTicks).tickFormat(d=>d==-4000?'4000':String(d)).tickSize(5).tickPadding(0)).call(styleAxis);
lowAxis.selectAll('.tick text').filter(d=>d==-4000).attr('dx',10);
svg.append('line').attr('x1',2884.5).attr('x2',2884.5).attr('y1',0).attr('y2',1955).attr('stroke',WHITE).attr('stroke-width',1);
svg.append('line').attr('x1',0).attr('x2',2885).attr('y1',1954.5).attr('y2',1954.5).attr('stroke',WHITE).attr('stroke-width',1);
svg.append('line').attr('x1',1).attr('x2',1).attr('y1',0).attr('y2',1955).attr('stroke','#70757c').attr('stroke-width',1);

// time axis
svg.append('rect').attr('x',0).attr('y',1958).attr('width',82).attr('height',30).attr('fill',WHITE);
svg.append('rect').attr('x',x(308)-42).attr('y',1958).attr('width',85).attr('height',30).attr('fill',WHITE);
const tx=svg.append('g').attr('transform','translate(0,1955)')
 .call(d3.axisBottom(x).tickValues(timeTickBars).tickFormat((d,i)=>timeTickLabels[i]).tickSize(3).tickPadding(4)).call(styleAxis);
tx.selectAll('.tick text').attr('fill',(d,i)=>timeTickLabels[i]=='2-16 Th'?'#000':WHITE);
svg.append('text').attr('x',39).attr('y',1982).attr('text-anchor','middle').attr('fill','#000').text('2-15 We');
svg.append('rect').attr('x',2935).attr('y',1958).attr('width',52).attr('height',30).attr('fill','#00c000');
svg.append('text').attr('x',2960).attr('y',1982).attr('text-anchor','middle').attr('fill',WHITE).text('3 E');

// last price box
svg.append('rect').attr('x',2888.5).attr('y',1450.5).attr('width',86).attr('height',30).attr('fill','#f9ef45').attr('stroke','#ff0000').attr('stroke-width',1);
svg.append('text').attr('x',2889.5).attr('y',1474).attr('fill','#000').attr('textLength',84).attr('lengthAdjust','spacingAndGlyphs').style('font-size','25px').text(d3.format('.2f')(lastPrice));

// header
svg.append('rect').attr('x',350).attr('y',0).attr('width',142).attr('height',28).attr('fill','#ff0000');
svg.append('rect').attr('x',499).attr('y',0).attr('width',151).attr('height',28).attr('fill','#ff0000');
const hdrText=['F.US.EPH23 [CBV] 5000 Volume','DChg: -13.00','DChg%: -0.32','DV: 39330 RV:2663','VWAP: 4089.24','+2sig: 4092.94','-2sig: 4085.55'];
const hdrX=[3,352,500,658,874,1055,1230];
const hdrW=[339,139,149,206,164,158,151];
const hdrC=[WHITE,'#2a2f36','#2a2f36',WHITE,GOLD,PURPLE,PURPLE];
hdrText.forEach((t,i)=>svg.append('text').attr('x',hdrX[i]).attr('y',22).attr('fill',hdrC[i]).attr('textLength',hdrW[i]).attr('lengthAdjust','spacingAndGlyphs').text(t));
[[352,421,'#2a2f36'],[500,594,'#2a2f36'],[658,702,WHITE]].forEach(u=>svg.append('rect').attr('x',u[0]).attr('y',26).attr('width',u[1]-u[0]).attr('height',2).attr('fill',u[2]));
</script></body></html>
